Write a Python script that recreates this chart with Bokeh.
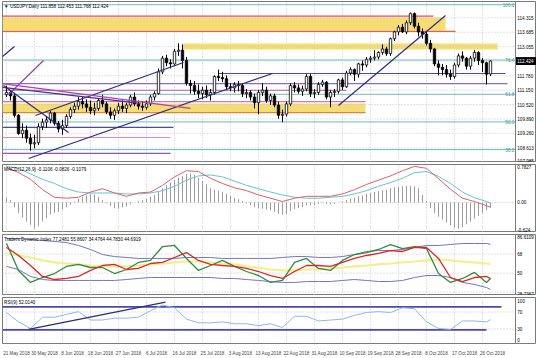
from bokeh.plotting import figure
from bokeh.models import Range1d, FixedTicker, Span, Label
from bokeh.layouts import column
from bokeh.embed import file_html
from bokeh.resources import INLINE
from bokeh.core.properties import value

# ---------------- data ----------------
main_title = "USDJPY,Daily  111.858 112.453 111.768 112.424"
macd_title = "MACD(12,26,9) -0.1106 -0.0826 -0.1079"
tdi_title = "Traders Dynamic Index 77.2481 55.8607 34.4764 44.7830 44.6919"
rsi_title = "RSI(9) 52.0140"

bar_open = [110.95, 111.05, 110.90, 110.05, 109.25, 109.40, 109.05, 108.80, 108.85, 109.55,
            109.75, 109.85, 110.15, 109.70, 109.45, 109.60, 110.00, 110.30, 110.45, 110.65,
            110.55, 110.40, 110.25, 110.35, 110.70, 110.55, 110.20, 110.05, 110.25, 110.45,
            110.35, 110.50, 110.85, 110.55, 110.45, 110.40, 110.55, 110.85, 111.00, 111.95,
            112.55, 112.35, 112.30, 112.85, 112.90, 112.45, 111.45, 111.35, 111.10, 111.00,
            111.15, 110.95, 111.05, 111.75, 111.70, 111.65, 111.30, 111.25, 111.40, 111.35,
            111.00, 111.05, 110.85, 110.60, 111.05, 111.15, 110.70, 110.90, 110.50, 110.05,
            110.10, 110.55, 111.35, 111.25, 111.10, 111.20, 111.75, 111.00, 111.05, 111.40,
            111.50, 110.85, 111.05, 111.10, 111.60, 111.30, 111.90, 112.05, 111.85, 112.30,
            112.25, 112.50, 112.55, 112.60, 112.80, 112.95, 112.75, 113.40, 113.70, 113.90,
            113.70, 114.10, 114.50, 113.95, 113.70, 113.60, 113.20, 112.95, 112.30, 112.15,
            112.05, 111.85, 111.75, 112.25, 112.65, 112.55, 112.20, 112.55, 112.80, 112.45,
            112.35, 111.858]
bar_high = [111.35, 111.15, 111.00, 110.10, 109.70, 109.60, 109.25, 109.20, 109.70, 109.90,
            110.00, 110.25, 110.20, 109.80, 109.85, 110.10, 110.40, 110.60, 110.85, 110.90,
            110.75, 110.70, 110.60, 110.80, 110.95, 110.65, 110.40, 110.35, 110.60, 110.70,
            110.60, 110.95, 111.05, 110.70, 110.65, 110.70, 110.95, 111.10, 112.10, 112.65,
            112.70, 112.50, 112.95, 113.20, 113.15, 112.60, 111.60, 111.55, 111.40, 111.30,
            111.35, 111.20, 111.80, 112.05, 111.95, 111.80, 111.45, 111.50, 111.55, 111.45,
            111.20, 111.15, 111.00, 111.15, 111.45, 111.30, 111.00, 111.00, 110.65, 110.30,
            110.65, 111.45, 111.50, 111.40, 111.35, 111.85, 111.85, 111.20, 111.50, 111.60,
            111.55, 111.15, 111.20, 111.65, 111.70, 112.00, 112.15, 112.10, 112.35, 112.45,
            112.60, 112.65, 112.90, 112.85, 113.15, 113.05, 113.45, 113.75, 114.00, 114.05,
            114.20, 114.55, 114.55, 114.10, 113.85, 113.75, 113.35, 113.00, 112.45, 112.30,
            112.25, 112.05, 112.35, 112.75, 112.85, 112.60, 112.65, 112.90, 112.85, 112.55,
            112.40, 112.453]
bar_low = [110.85, 110.70, 109.95, 109.20, 109.05, 108.85, 108.50, 108.60, 108.75, 109.40,
           109.50, 109.70, 109.60, 109.30, 109.20, 109.50, 109.90, 110.15, 110.30, 110.35,
           110.20, 110.10, 110.05, 110.25, 110.40, 110.10, 109.90, 109.85, 110.10, 110.20,
           110.15, 110.40, 110.45, 110.30, 110.25, 110.30, 110.45, 110.70, 110.95, 111.85,
           112.20, 112.10, 112.20, 112.65, 112.10, 111.35, 111.00, 110.95, 110.80, 110.75,
           110.80, 110.70, 110.95, 111.55, 111.50, 111.20, 111.10, 111.05, 111.10, 110.85,
           110.80, 110.70, 110.35, 110.10, 110.90, 110.60, 110.50, 110.40, 109.90, 109.75,
           110.00, 110.45, 111.05, 111.00, 110.90, 111.10, 110.85, 110.80, 110.95, 111.30,
           110.75, 110.40, 110.85, 111.00, 111.15, 111.25, 111.80, 111.55, 111.70, 112.00,
           112.15, 112.35, 112.45, 112.50, 112.70, 112.65, 112.65, 113.30, 113.55, 113.65,
           113.60, 114.00, 113.85, 113.50, 113.40, 113.10, 112.80, 112.20, 111.80, 111.80,
           111.70, 111.60, 111.65, 112.15, 112.40, 112.05, 112.05, 112.40, 112.25, 111.95,
           111.40, 111.768]
bar_close = [111.05, 110.90, 110.05, 109.25, 109.40, 109.05, 108.80, 108.85, 109.55, 109.75,
             109.85, 110.15, 109.70, 109.45, 109.60, 110.00, 110.30, 110.45, 110.65, 110.55,
             110.40, 110.25, 110.35, 110.70, 110.55, 110.20, 110.05, 110.25, 110.45, 110.35,
             110.50, 110.85, 110.55, 110.45, 110.40, 110.55, 110.85, 111.00, 111.95, 112.55,
             112.35, 112.30, 112.85, 112.90, 112.45, 111.45, 111.35, 111.10, 111.00, 111.15,
             110.95, 111.05, 111.75, 111.70, 111.65, 111.30, 111.25, 111.40, 111.35, 111.00,
             111.05, 110.85, 110.60, 111.05, 111.15, 110.70, 110.90, 110.50, 110.05, 110.10,
             110.55, 111.35, 111.25, 111.10, 111.20, 111.75, 111.00, 111.05, 111.40, 111.50,
             110.85, 111.05, 111.10, 111.60, 111.30, 111.90, 112.05, 111.85, 112.30, 112.25,
             112.50, 112.55, 112.60, 112.80, 112.95, 112.75, 113.40, 113.70, 113.90, 113.70,
             114.10, 114.50, 113.95, 113.70, 113.60, 113.20, 112.95, 112.30, 112.15, 112.05,
             111.85, 111.75, 112.25, 112.65, 112.55, 112.20, 112.55, 112.80, 112.45, 112.35,
             111.85, 112.424]

date_labels = ["21 May 2018", "30 May 2018", "8 Jun 2018", "18 Jun 2018", "27 Jun 2018",
               "6 Jul 2018", "16 Jul 2018", "25 Jul 2018", "3 Aug 2018", "13 Aug 2018",
               "22 Aug 2018", "31 Aug 2018", "10 Sep 2018", "19 Sep 2018", "28 Sep 2018",
               "8 Oct 2018", "17 Oct 2018", "26 Oct 2018"]
date_bars = [0, 7, 14, 21, 28, 35, 42, 49, 56, 63, 70, 77, 84, 91, 98, 105, 112, 119]

price_ticks = [114.315, 113.685, 113.055, 111.780, 111.150, 110.520, 109.890, 109.260, 108.613]
price_labels = ["114.315", "113.685", "113.055", "111.780", "111.150", "110.520", "109.890", "109.260", "108.613"]
price_min_label = "107.985"
price_min = 107.985
price_max = 115.03

# horizontal objects drawn on the price chart
hline_price = [114.39, 113.72, 111.88, 111.44, 111.14, 110.65, 110.17, 109.52, 109.08, 108.38]
hline_x0 = [-1, -1, 53, -1, -1, -1, -1, -1, -1, -1]
hline_x1 = [106.75, 112.25, 124.75, 125.25, 85, 89.75, 89.75, 41.75, 41, 41]
hline_color = ["#e05050", "#e0643c", "#4b4b9b", "#8a6ad0", "#c87ab8", "#c87ab8",
               "#e0843c", "#4b4b9b", "#e88ab8", "#9a50c0"]

band_bottom = [113.76, 112.93, 110.17]
band_top = [114.33, 113.19, 110.57]
band_x0 = [-1, 44, -1]
band_x1 = [109.75, 122.75, 89.75]

trend_x0 = [5.5, 7.25, 83, 0.5, -1, -1, -1, -0.75]
trend_p0 = [108.16, 110.04, 110.48, 110.96, 112.62, 111.44, 111.27, 111.35]
trend_x1 = [66.5, 44.25, 109.75, 9.25, 2, 46, 33.5, 15.5]
trend_p1 = [111.88, 112.36, 114.42, 112.45, 113.06, 110.35, 110.57, 109.30]
trend_color = ["#2c2c7c", "#2c2c7c", "#2c2c7c", "#9040b0", "#2c2c7c", "#b040b0", "#5a2a8a", "#2c2c7c"]

fib_names = ["100.0", "76.4", "61.8", "50.0", "38.2"]
fib_price = [114.89, 112.47, 110.97, 109.76, 108.55]

# indicator samples (every 3rd bar + last bar)
ind_idx = list(range(0, 121, 3)) + [121]

macd_hist = [0.10, 0.05, -0.10, -0.22, -0.32, -0.40, -0.47, -0.55, -0.50, -0.40,
             -0.33, -0.25, -0.22, -0.20, -0.15, -0.10, -0.05, 0.02, 0.08, 0.12,
             0.15, 0.18, 0.17, 0.12, 0.05, -0.02, -0.07, -0.12, -0.13, -0.10,
             -0.08, -0.04, 0.00, 0.03, 0.05, 0.08, 0.12, 0.16, 0.22, 0.30,
             0.36, 0.42, 0.47, 0.52, 0.56, 0.60, 0.61, 0.58, 0.52, 0.45,
             0.38, 0.30, 0.27, 0.25, 0.22, 0.18, 0.14, 0.10, 0.07, 0.03,
             -0.02, -0.06, -0.10, -0.12, -0.13, -0.15, -0.17, -0.20, -0.24, -0.26,
             -0.24, -0.18, -0.14, -0.12, -0.10, -0.06, -0.06, -0.05, -0.03, -0.01,
             -0.03, -0.04, -0.03, 0.00, 0.02, 0.05, 0.08, 0.10, 0.13, 0.15,
             0.18, 0.20, 0.22, 0.24, 0.26, 0.27, 0.30, 0.32, 0.33, 0.34,
             0.35, 0.35, 0.34, 0.30, 0.16, 0.03, -0.12, -0.22, -0.30, -0.36,
             -0.42, -0.48, -0.53, -0.55, -0.52, -0.46, -0.40, -0.34, -0.28, -0.22,
             -0.16, -0.11]
macd_red = [0.74, 0.63, 0.49, 0.27, 0.11, 0.09, 0.11, 0.22, 0.29, 0.20,
            0.13, 0.20, 0.22, 0.36, 0.54, 0.67, 0.65, 0.51, 0.40, 0.31,
            0.25, 0.16, 0.09, 0.02, 0.09, 0.13, 0.13, 0.13, 0.18, 0.27,
            0.38, 0.47, 0.56, 0.67, 0.76, 0.72, 0.50, 0.28, 0.09, 0.02,
            -0.07, -0.10]
macd_cyan = [0.76, 0.72, 0.60, 0.49, 0.40, 0.29, 0.22, 0.20, 0.20, 0.20,
             0.18, 0.18, 0.20, 0.25, 0.34, 0.47, 0.56, 0.58, 0.54, 0.45,
             0.36, 0.29, 0.22, 0.16, 0.11, 0.09, 0.09, 0.11, 0.13, 0.18,
             0.25, 0.34, 0.42, 0.51, 0.63, 0.65, 0.55, 0.40, 0.22, 0.10,
             0.02, -0.02]
macd_ticks = [0.7827, 0.0, -0.624]
macd_labels = ["0.7827", "0.00", "-0.624"]

tdi_upper = [82.8, 82.8, 81.9, 80.9, 80.0, 79.0, 76.2, 72.4, 67.6, 65.7,
             64.8, 63.9, 63.9, 63.9, 63.9, 64.8, 64.8, 64.8, 63.9, 63.9,
             63.9, 63.9, 63.9, 64.8, 65.7, 65.7, 64.8, 64.8, 65.7, 67.6,
             70.5, 71.4, 71.4, 72.4, 74.3, 76.2, 76.2, 77.1, 78.1, 78.1,
             78.1, 77.25]
tdi_base = [68.6, 66.7, 64.8, 62.0, 60.1, 59.1, 58.2, 57.2, 56.3, 56.3,
            56.3, 57.2, 58.2, 59.1, 60.1, 61.0, 61.0, 60.1, 59.1, 58.2,
            56.3, 55.3, 53.4, 52.5, 52.5, 53.4, 53.4, 54.4, 55.3, 56.3,
            57.2, 58.2, 59.1, 60.1, 61.0, 62.0, 62.9, 62.0, 61.0, 60.1,
            59.1, 58.8]
tdi_lower = [56.3, 53.4, 46.8, 43.9, 43.0, 43.0, 43.0, 43.0, 43.0, 43.0,
             43.9, 44.9, 45.8, 45.8, 45.8, 45.8, 45.8, 45.8, 44.9, 44.9,
             43.9, 43.0, 42.0, 41.1, 41.1, 42.0, 42.0, 42.0, 43.0, 43.9,
             43.0, 42.0, 42.0, 43.0, 45.8, 47.7, 47.7, 45.8, 41.1, 39.2,
             36.3, 34.48]
tdi_signal = [74.3, 66.7, 57.2, 46.8, 43.9, 44.9, 46.8, 52.5, 57.2, 58.2,
              53.4, 54.4, 59.1, 60.1, 64.8, 69.5, 62.0, 58.2, 57.2, 56.3,
              54.4, 51.5, 47.7, 44.9, 51.5, 57.2, 57.2, 56.3, 60.1, 63.9,
              66.7, 68.6, 71.4, 70.5, 74.3, 74.3, 63.9, 45.8, 42.0, 45.8,
              46.8, 44.69]
tdi_price = [78.1, 52.5, 41.1, 45.8, 49.6, 56.3, 58.2, 55.3, 55.3, 49.6,
             53.4, 60.1, 62.0, 75.2, 76.2, 63.9, 52.5, 57.2, 62.0, 56.3,
             51.5, 47.7, 41.1, 43.0, 60.1, 63.9, 54.4, 52.5, 62.0, 67.6,
             69.5, 72.4, 77.1, 73.3, 75.2, 73.3, 49.6, 41.1, 44.9, 50.6,
             41.1, 44.78]
tdi_levels = [68, 50, 32]
tdi_min, tdi_max = 28.7367, 86.6109

rsi_vals = [68.7, 46.7, 31.3, 57.7, 57.7, 64.3, 70.9, 51.1, 51.1, 55.5,
            55.5, 57.7, 73.1, 86.4, 79.8, 53.3, 44.5, 44.5, 46.7, 42.3,
            42.3, 37.9, 42.3, 33.5, 59.9, 59.9, 48.9, 51.1, 53.3, 62.1,
            68.7, 70.9, 68.7, 79.8, 77.6, 46.7, 31.3, 29.1, 48.9, 48.9,
            46.7, 52.0]
rsi_levels = [70, 30]
rsi_hlines = [82.0, 28.0]
rsi_hline_x1 = [123.75, 120]
rsi_trend = ([5.5, 39.75], [29.1, 93.0])

# ---------------- layout helpers ----------------
FONT = "Liberation Sans"
FS = "4.6px"
XEND = 132.5          # right edge of window in bar units
AXIS_X = 127.25       # price-scale separator in bar units
GRID = "#c4c4c4"
XR = Range1d(-1, XEND)


def make_fig(h, ymin, ymax, top, bottom=0, xaxis=False):
    p = figure(width=536, height=h, x_range=XR, y_range=Range1d(ymin, ymax),
               output_backend="svg", toolbar_location=None,
               min_border_left=2, min_border_right=0, min_border_top=top,
               min_border_bottom=bottom,
               x_axis_location="below" if xaxis else None, y_axis_location=None)
    p.xgrid.visible = False
    p.ygrid.visible = False
    p.outline_line_color = "#7a7a7a"
    p.outline_line_width = 1
    p.background_fill_color = "white"
    p.border_fill_color = "white"
    p.segment(x0=date_bars, x1=date_bars, y0=ymin, y1=ymax,
              line_color=GRID, line_dash="1 2", line_width=1)
    p.add_layout(Span(location=AXIS_X, dimension="height", line_color="#7a7a7a", line_width=1))
    return p


def scale_text(p, ys, texts, baseline="middle"):
    p.text(x=AXIS_X + 0.45, y=ys, text=texts, text_font=value(FONT),
           text_font_size=FS, text_baseline=baseline, text_align="left", text_color="black")


def hgrid(p, ys):
    p.segment(x0=-1, x1=AXIS_X, y0=ys, y1=ys, line_color=GRID, line_dash="1 2", line_width=1)


def title(p, txt, y):
    p.add_layout(Label(x=-0.6, y=y, text=txt, text_font=FONT, text_font_size=FS,
                       text_baseline="top", y_offset=-2, text_color="black"))


# ---------------- main price panel ----------------
p1 = make_fig(162, price_min, price_max, top=1)
p1.quad(left=band_x0, right=band_x1, bottom=band_bottom, top=band_top,
        fill_color="#f6dc74", line_color=None)
hgrid(p1, price_ticks + [bar_close[-1]])
p1.segment(x0=hline_x0, x1=hline_x1, y0=hline_price, y1=hline_price,
           line_color=hline_color, line_width=1.2)
p1.segment(x0=-1, x1=AXIS_X, y0=fib_price, y1=fib_price, line_color="#6cbcbc", line_width=1)
p1.text(x=AXIS_X - 0.3, y=fib_price, text=fib_names, text_font=value(FONT), text_font_size=FS,
        text_baseline="middle", text_align="right", text_color="#3a9a9a")

idx = list(range(len(bar_close)))
bull = [i for i in idx if bar_close[i] >= bar_open[i]]
bear = [i for i in idx if bar_close[i] < bar_open[i]]
p1.segment(x0=idx, x1=idx, y0=bar_low, y1=bar_high, line_color="black", line_width=1)
p1.vbar(x=bull, width=0.6, bottom=[bar_open[i] for i in bull], top=[bar_close[i] for i in bull],
        fill_color="white", line_color="black", line_width=0.8)
p1.vbar(x=bear, width=0.6, bottom=[bar_close[i] for i in bear], top=[bar_open[i] for i in bear],
        fill_color="black", line_color="black", line_width=0.8)
p1.segment(x0=trend_x0, x1=trend_x1, y0=trend_p0, y1=trend_p1, line_color=trend_color, line_width=1.2)

scale_text(p1, price_ticks, price_labels)
scale_text(p1, [price_min], [price_min_label], baseline="bottom")
p1.quad(left=AXIS_X, right=XEND, bottom=bar_close[-1] - 0.15, top=bar_close[-1] + 0.15,
        fill_color="black", line_color="black")
p1.text(x=AXIS_X + 0.45, y=[bar_close[-1]], text=["%.3f" % bar_close[-1]], text_font=value(FONT),
        text_font_size=FS, text_baseline="middle", text_color="white")
title(p1, "\u25bc " + main_title, price_max)

# ---------------- MACD panel ----------------
macd_min, macd_max = -0.632, 0.80
p2 = make_fig(70, macd_min, macd_max, top=2)
hgrid(p2, [0.0])
p2.segment(x0=idx, x1=idx, y0=0, y1=macd_hist, line_color="#9c9c9c", line_width=1)
p2.line(ind_idx, macd_cyan, line_color="#62c4d8", line_width=1)
p2.line(ind_idx, macd_red, line_color="#d9606a", line_width=1)
scale_text(p2, [macd_ticks[0]], [macd_labels[0]], baseline="top")
scale_text(p2, [macd_ticks[1]], [macd_labels[1]])
scale_text(p2, [macd_ticks[2]], [macd_labels[2]], baseline="bottom")
title(p2, macd_title, macd_max)

# ---------------- TDI panel ----------------
p3 = make_fig(63, tdi_min, tdi_max, top=2)
hgrid(p3, tdi_levels)
p3.line(ind_idx, tdi_base, line_color="#f4ee8c", line_width=2.2)
p3.line(ind_idx, tdi_upper, line_color="#7474c4", line_width=1)
p3.line(ind_idx, tdi_lower, line_color="#7474c4", line_width=1)
p3.line(ind_idx, tdi_price, line_color="#2e8b3e", line_width=1.3)
p3.line(ind_idx, tdi_signal, line_color="#e02424", line_width=1.3)
scale_text(p3, [tdi_max], ["%.4f" % tdi_max], baseline="top")
scale_text(p3, tdi_levels[:2], [str(v) for v in tdi_levels[:2]])
scale_text(p3, [tdi_min], ["%.4f" % tdi_min], baseline="bottom")
title(p3, tdi_title, tdi_max)

# ---------------- RSI panel ----------------
rsi_min, rsi_max = -4, 104
p4 = make_fig(63, rsi_min, rsi_max, top=2, bottom=12, xaxis=True)
hgrid(p4, rsi_levels)
p4.segment(x0=-1, x1=rsi_hline_x1, y0=rsi_hlines, y1=rsi_hlines, line_color="#4a4aa8", line_width=1.6)
p4.line(ind_idx, rsi_vals, line_color="#8cb8e8", line_width=1)
p4.line(rsi_trend[0], rsi_trend[1], line_color="#2c2c7c", line_width=1.4)
scale_text(p4, [100], ["100"], baseline="top")
scale_text(p4, rsi_levels, [str(v) for v in rsi_levels])
scale_text(p4, [0], ["0"], baseline="bottom")
title(p4, rsi_title, rsi_max)

date_ticks = [b + 2.5 for b in date_bars]
ax = p4.xaxis[0]
ax.ticker = FixedTicker(ticks=date_ticks)
ax.major_label_overrides = {t: d for t, d in zip(date_ticks, date_labels)}
ax.major_label_text_font = FONT
ax.major_label_text_font_size = FS
ax.major_label_standoff = 1
ax.axis_line_color = None
ax.major_tick_line_color = None
ax.minor_tick_line_color = None

layout = column(p1, p2, p3, p4, spacing=0)
open("out.html", "w").write(file_html(layout, INLINE))
